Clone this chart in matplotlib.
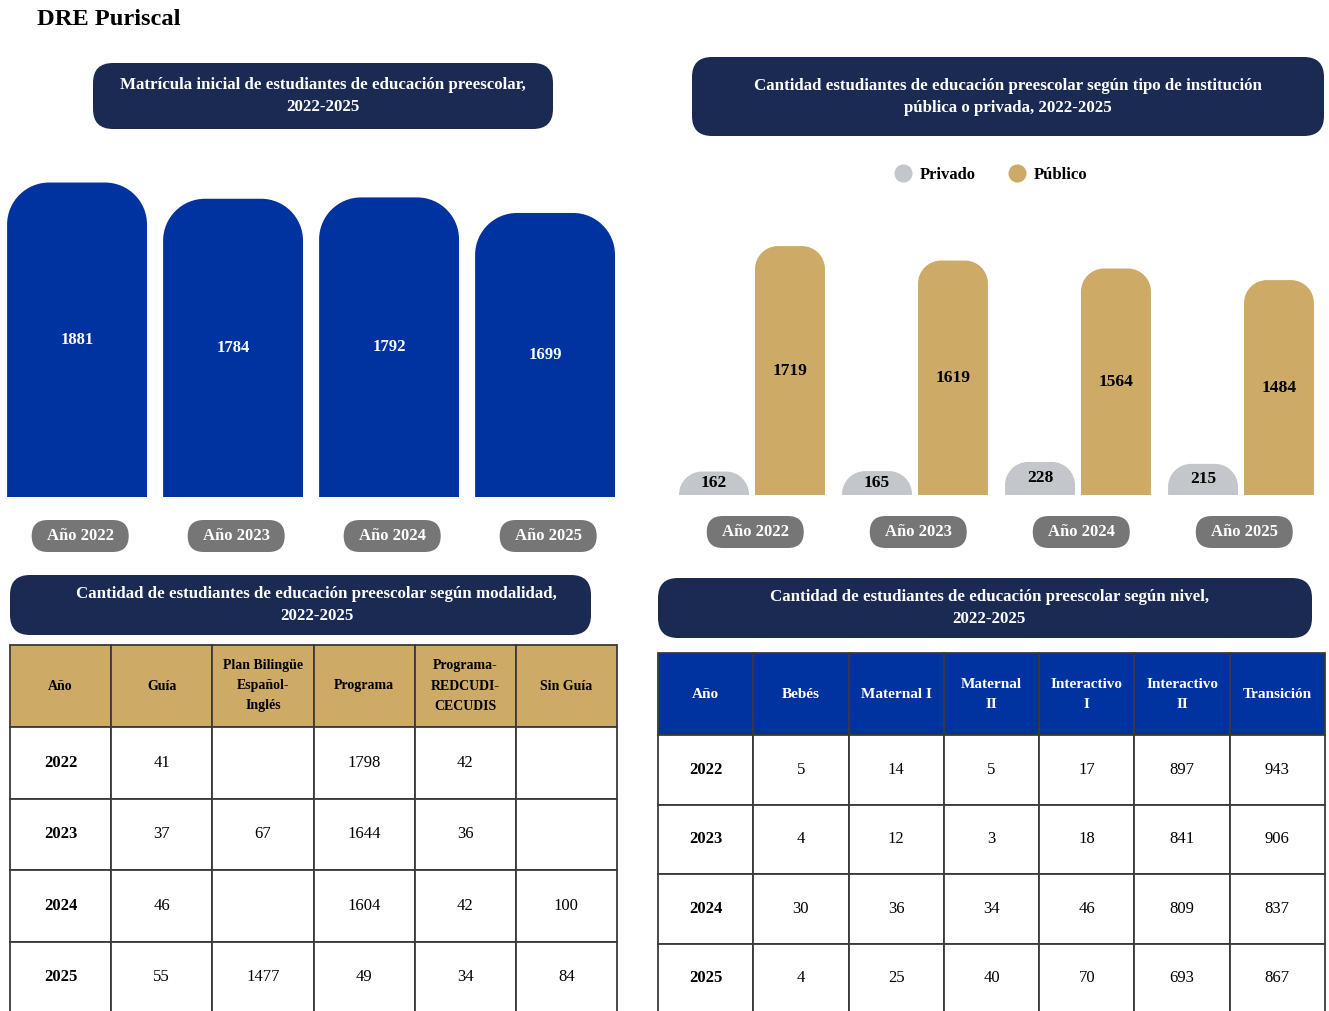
import matplotlib.pyplot as plt
from matplotlib.patches import FancyBboxPatch, PathPatch
from matplotlib.path import Path
from matplotlib.lines import Line2D

plt.rcParams['font.family'] = ['Liberation Serif', 'DejaVu Serif']

W, H = 1329, 1011

# ---- data ----
years = ['Año 2022', 'Año 2023', 'Año 2024', 'Año 2025']
matricula = [1881, 1784, 1792, 1699]
privado = [162, 165, 228, 215]
publico = [1719, 1619, 1564, 1484]

mod_cols = ['Año', 'Guía', 'Plan Bilingüe\nEspañol-\nInglés', 'Programa',
            'Programa-\nREDCUDI-\nCECUDIS', 'Sin Guía']
mod_rows = [['2022', '41', '', '1798', '42', ''],
            ['2023', '37', '67', '1644', '36', ''],
            ['2024', '46', '', '1604', '42', '100'],
            ['2025', '55', '1477', '49', '34', '84']]

niv_cols = ['Año', 'Bebés', 'Maternal I', 'Maternal\nII', 'Interactivo\nI',
            'Interactivo\nII', 'Transición']
niv_rows = [['2022', '5', '14', '5', '17', '897', '943'],
            ['2023', '4', '12', '3', '18', '841', '906'],
            ['2024', '30', '36', '34', '46', '809', '837'],
            ['2025', '4', '25', '40', '70', '693', '867']]

NAVY = '#1b2a52'
BLUE = '#0033a0'
GOLD = '#cdaa66'
SILVER = '#c3c6ca'
PILL = '#767676'
EDGE = '#3a3a3a'

fig = plt.figure(figsize=(W / 100, H / 100), dpi=100)


def px_axes(x0, y0, x1, y1):
    # axes from a pixel box, y measured from the top
    return fig.add_axes([x0 / W, 1 - y1 / H, (x1 - x0) / W, (y1 - y0) / H])


def units_per_px(ax):
    pos = ax.get_position()
    xa, xb = ax.get_xlim()
    ya, yb = ax.get_ylim()
    return (xb - xa) / (pos.width * W), (yb - ya) / (pos.height * H)


def top_rounded_bar(ax, xc, w, h, r_px, color):
    ux, uy = units_per_px(ax)
    rx = min(r_px * ux, w / 2)
    ry = min(r_px * uy, h)
    k = 0.5523
    l, r = xc - w / 2, xc + w / 2
    verts = [(l, 0), (l, h - ry),
             (l, h - ry + k * ry), (l + rx - k * rx, h), (l + rx, h),
             (r - rx, h),
             (r - rx + k * rx, h), (r, h - ry + k * ry), (r, h - ry),
             (r, 0), (l, 0)]
    codes = [Path.MOVETO, Path.LINETO,
             Path.CURVE4, Path.CURVE4, Path.CURVE4,
             Path.LINETO,
             Path.CURVE4, Path.CURVE4, Path.CURVE4,
             Path.LINETO, Path.CLOSEPOLY]
    ax.add_patch(PathPatch(Path(verts, codes), fc=color, ec='none'))


def pill(ax, xc, text, dy_px=38, w_px=97, h_px=32):
    ux, uy = units_per_px(ax)
    w, h = w_px * ux, h_px * uy
    yc = -dy_px * uy
    p = FancyBboxPatch((xc - w / 2, yc - h / 2), w, h,
                       boxstyle=f'round,pad=0,rounding_size={h_px / 2 * ux}',
                       mutation_aspect=uy / ux, fc=PILL, ec='none', clip_on=False)
    ax.add_patch(p)
    ax.text(xc, yc, text, ha='center', va='center', color='white',
            fontsize=12, weight='bold', clip_on=False)


# ---- overlay for title and header boxes ----
over = fig.add_axes([0, 0, 1, 1])
over.set_xlim(0, W)
over.set_ylim(H, 0)
over.set_axis_off()

fig.text(37 / W, 1 - 20 / H, 'DRE Puriscal', fontsize=17.6, weight='bold', va='center')

headers = [
    ((93, 63, 553, 129), 0, 'Matrícula inicial de estudiantes de educación preescolar,\n2022-2025'),
    ((692, 57, 1324, 136), 0, 'Cantidad estudiantes de educación preescolar según tipo de institución\npública o privada, 2022-2025'),
    ((10, 575, 591, 635), 16, 'Cantidad de estudiantes de educación preescolar según modalidad,\n2022-2025'),
    ((658, 578, 1312, 638), 4, 'Cantidad de estudiantes de educación preescolar según nivel,\n2022-2025'),
]
for (x0, y0, x1, y1), shift, txt in headers:
    over.add_patch(FancyBboxPatch((x0, y0), x1 - x0, y1 - y0,
                                  boxstyle='round,pad=0,rounding_size=20',
                                  fc=NAVY, ec='none'))
    over.text((x0 + x1) / 2 + shift, (y0 + y1) / 2, txt, ha='center', va='center',
              color='white', fontsize=12.2, weight='bold', linespacing=1.5)

# ---- chart 1: total enrolment ----
ax1 = px_axes(0, 171, 624, 497)
ax1.set_xlim(-0.494, 3.506)
ax1.set_ylim(0, 1950)
ax1.set_axis_off()
for i, v in enumerate(matricula):
    top_rounded_bar(ax1, i, 0.897, v, 42, BLUE)
    ax1.text(i, v / 2, str(v), ha='center', va='center', color='white',
             fontsize=12, weight='bold')
    pill(ax1, i + 0.02, years[i], dy_px=39)

# ---- chart 2: private vs public ----
ax2 = px_axes(670.5, 230, 1322.5, 495)
ax2.set_xlim(-0.5, 3.5)
ax2.set_ylim(0, 1830)
ax2.set_axis_off()
bw, off = 0.429, 0.233
for i in range(len(years)):
    top_rounded_bar(ax2, i - off, bw, privado[i], 23, SILVER)
    top_rounded_bar(ax2, i + off, bw, publico[i], 23, GOLD)
    ax2.text(i - off, privado[i] / 2, str(privado[i]), ha='center', va='center',
             color='black', fontsize=12.5, weight='bold')
    ax2.text(i + off, publico[i] / 2, str(publico[i]), ha='center', va='center',
             color='black', fontsize=12.5, weight='bold')
    pill(ax2, i + 0.02, years[i], dy_px=37)

handles = [Line2D([], [], marker='o', ls='', ms=13, mfc=SILVER, mec='none'),
           Line2D([], [], marker='o', ls='', ms=13, mfc=GOLD, mec='none')]
fig.legend(handles, ['Privado', 'Público'], loc='center',
           bbox_to_anchor=(991 / W, 1 - 175 / H), ncol=2, frameon=False,
           prop=dict(weight='bold', size=12), handlelength=1,
           handletextpad=0.5, columnspacing=2.0)


# ---- tables ----
def draw_table(box, cols, rows, head_color, head_text, head_size, head_h, row_h):
    ax = px_axes(*box)
    ax.set_axis_off()
    tb = ax.table(cellText=rows, colLabels=cols, cellLoc='center', bbox=[0, 0, 1, 1])
    tb.auto_set_font_size(False)
    for (r, c), cell in tb.get_celld().items():
        cell.set_edgecolor(EDGE)
        cell.set_linewidth(1.3)
        txt = cell.get_text()
        if r == 0:
            cell.set_height(head_h)
            cell.set_facecolor(head_color)
            txt.set_color(head_text)
            txt.set_fontweight('bold')
            txt.set_fontsize(head_size)
            txt.set_linespacing(1.7)
        else:
            cell.set_height(row_h)
            cell.set_facecolor('white')
            txt.set_fontsize(12)
            if c == 0:
                txt.set_fontweight('bold')
    return tb


draw_table((10, 645, 617, 1013), mod_cols, mod_rows, GOLD, 'black', 10, 82, 71.5)
draw_table((658, 653, 1325, 1013), niv_cols, niv_rows, BLUE, 'white', 11, 82, 69.5)

fig.savefig('out.png', dpi=100)
